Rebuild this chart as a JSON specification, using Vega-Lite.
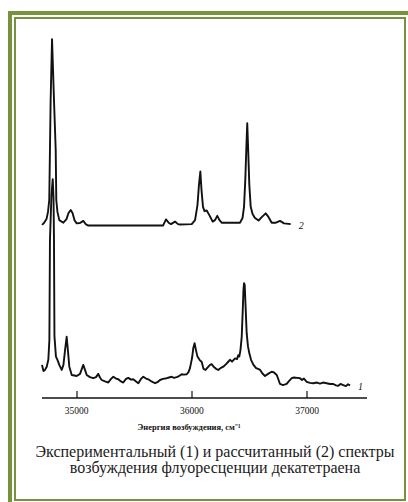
{
  "$schema": "https://vega.github.io/schema/vega-lite/v6.json",
  "width": 400,
  "height": 491,
  "autosize": {"type": "none"},
  "padding": {"left": 10, "top": 13, "right": -2, "bottom": -2},
  "background": "white",
  "view": {"stroke": "#76923C", "strokeWidth": 4, "fill": "white"},
  "title": {
    "text": ["Экспериментальный (1) и рассчитанный (2) спектры", "возбуждения флуоресценции декатетраена"],
    "orient": "bottom",
    "anchor": "middle",
    "frame": "group",
    "offset": -60,
    "dx": 5,
    "baseline": "top",
    "font": "Liberation Serif",
    "fontSize": 16,
    "fontWeight": "normal",
    "color": "#1a1a1a",
    "lineHeight": 15.5
  },
  "data": {
    "values": [
      {"s": "2", "nu": 34700, "I": 48.1}, {"s": "2", "nu": 34717, "I": 48.6}, {"s": "2", "nu": 34739, "I": 49.7},
      {"s": "2", "nu": 34752, "I": 51.7}, {"s": "2", "nu": 34763, "I": 55.0}, {"s": "2", "nu": 34769, "I": 68.9},
      {"s": "2", "nu": 34775, "I": 82.8}, {"s": "2", "nu": 34787, "I": 99.7}, {"s": "2", "nu": 34804, "I": 82.8},
      {"s": "2", "nu": 34819, "I": 68.9}, {"s": "2", "nu": 34824, "I": 55.0}, {"s": "2", "nu": 34834, "I": 51.7},
      {"s": "2", "nu": 34850, "I": 49.4}, {"s": "2", "nu": 34885, "I": 48.7}, {"s": "2", "nu": 34913, "I": 49.7},
      {"s": "2", "nu": 34930, "I": 51.4}, {"s": "2", "nu": 34949, "I": 52.2}, {"s": "2", "nu": 34965, "I": 51.4},
      {"s": "2", "nu": 34982, "I": 49.4}, {"s": "2", "nu": 35001, "I": 48.5}, {"s": "2", "nu": 35030, "I": 48.6},
      {"s": "2", "nu": 35058, "I": 49.2}, {"s": "2", "nu": 35082, "I": 48.2}, {"s": "2", "nu": 35102, "I": 47.9},
      {"s": "2", "nu": 35377, "I": 47.9}, {"s": "2", "nu": 35750, "I": 47.9}, {"s": "2", "nu": 35776, "I": 49.6},
      {"s": "2", "nu": 35802, "I": 48.6}, {"s": "2", "nu": 35819, "I": 48.3}, {"s": "2", "nu": 35854, "I": 49.0},
      {"s": "2", "nu": 35880, "I": 48.3}, {"s": "2", "nu": 35897, "I": 48.2}, {"s": "2", "nu": 35999, "I": 48.3},
      {"s": "2", "nu": 36028, "I": 49.4}, {"s": "2", "nu": 36049, "I": 53.6}, {"s": "2", "nu": 36062, "I": 59.2},
      {"s": "2", "nu": 36074, "I": 62.9}, {"s": "2", "nu": 36084, "I": 57.8}, {"s": "2", "nu": 36097, "I": 53.1},
      {"s": "2", "nu": 36110, "I": 51.9}, {"s": "2", "nu": 36129, "I": 52.1}, {"s": "2", "nu": 36152, "I": 50.8},
      {"s": "2", "nu": 36181, "I": 49.0}, {"s": "2", "nu": 36201, "I": 49.4}, {"s": "2", "nu": 36221, "I": 50.6},
      {"s": "2", "nu": 36240, "I": 49.4}, {"s": "2", "nu": 36259, "I": 48.7}, {"s": "2", "nu": 36418, "I": 48.7},
      {"s": "2", "nu": 36440, "I": 50.0}, {"s": "2", "nu": 36453, "I": 53.1}, {"s": "2", "nu": 36464, "I": 60.6},
      {"s": "2", "nu": 36474, "I": 70.3}, {"s": "2", "nu": 36481, "I": 76.3}, {"s": "2", "nu": 36489, "I": 68.9},
      {"s": "2", "nu": 36499, "I": 59.2}, {"s": "2", "nu": 36511, "I": 53.1}, {"s": "2", "nu": 36527, "I": 51.1},
      {"s": "2", "nu": 36548, "I": 50.0}, {"s": "2", "nu": 36579, "I": 49.3}, {"s": "2", "nu": 36609, "I": 50.3},
      {"s": "2", "nu": 36641, "I": 51.3}, {"s": "2", "nu": 36665, "I": 50.3}, {"s": "2", "nu": 36693, "I": 48.7},
      {"s": "2", "nu": 36730, "I": 48.7}, {"s": "2", "nu": 36765, "I": 49.2}, {"s": "2", "nu": 36800, "I": 48.5},
      {"s": "2", "nu": 36858, "I": 48.3},

      {"s": "1", "nu": 34700, "I": 9.2}, {"s": "1", "nu": 34713, "I": 7.5}, {"s": "1", "nu": 34726, "I": 7.8},
      {"s": "1", "nu": 34741, "I": 8.7}, {"s": "1", "nu": 34755, "I": 10.6}, {"s": "1", "nu": 34764, "I": 16.1},
      {"s": "1", "nu": 34769, "I": 43.9}, {"s": "1", "nu": 34782, "I": 56.4}, {"s": "1", "nu": 34793, "I": 60.8},
      {"s": "1", "nu": 34800, "I": 55.6}, {"s": "1", "nu": 34804, "I": 43.9}, {"s": "1", "nu": 34808, "I": 17.2},
      {"s": "1", "nu": 34821, "I": 11.5}, {"s": "1", "nu": 34834, "I": 10.6}, {"s": "1", "nu": 34850, "I": 9.2},
      {"s": "1", "nu": 34871, "I": 7.8}, {"s": "1", "nu": 34886, "I": 9.2}, {"s": "1", "nu": 34900, "I": 13.3},
      {"s": "1", "nu": 34914, "I": 17.0}, {"s": "1", "nu": 34926, "I": 12.8}, {"s": "1", "nu": 34937, "I": 8.7},
      {"s": "1", "nu": 34958, "I": 6.4}, {"s": "1", "nu": 35001, "I": 6.1}, {"s": "1", "nu": 35030, "I": 6.7},
      {"s": "1", "nu": 35058, "I": 9.2}, {"s": "1", "nu": 35073, "I": 7.8}, {"s": "1", "nu": 35088, "I": 6.4},
      {"s": "1", "nu": 35116, "I": 5.8}, {"s": "1", "nu": 35145, "I": 5.5}, {"s": "1", "nu": 35169, "I": 5.8},
      {"s": "1", "nu": 35188, "I": 6.7}, {"s": "1", "nu": 35203, "I": 5.7}, {"s": "1", "nu": 35218, "I": 5.0},
      {"s": "1", "nu": 35247, "I": 4.6}, {"s": "1", "nu": 35275, "I": 4.3}, {"s": "1", "nu": 35299, "I": 5.3},
      {"s": "1", "nu": 35319, "I": 5.9}, {"s": "1", "nu": 35342, "I": 5.4}, {"s": "1", "nu": 35362, "I": 5.2},
      {"s": "1", "nu": 35385, "I": 4.6}, {"s": "1", "nu": 35405, "I": 4.3}, {"s": "1", "nu": 35429, "I": 5.3},
      {"s": "1", "nu": 35449, "I": 5.6}, {"s": "1", "nu": 35472, "I": 5.1}, {"s": "1", "nu": 35492, "I": 5.2},
      {"s": "1", "nu": 35516, "I": 4.6}, {"s": "1", "nu": 35536, "I": 4.1}, {"s": "1", "nu": 35559, "I": 5.3},
      {"s": "1", "nu": 35579, "I": 5.9}, {"s": "1", "nu": 35603, "I": 5.4}, {"s": "1", "nu": 35622, "I": 5.2},
      {"s": "1", "nu": 35650, "I": 4.6}, {"s": "1", "nu": 35681, "I": 4.1}, {"s": "1", "nu": 35702, "I": 4.4},
      {"s": "1", "nu": 35724, "I": 5.0}, {"s": "1", "nu": 35750, "I": 5.3}, {"s": "1", "nu": 35782, "I": 5.5},
      {"s": "1", "nu": 35802, "I": 5.7}, {"s": "1", "nu": 35825, "I": 5.9}, {"s": "1", "nu": 35845, "I": 5.6},
      {"s": "1", "nu": 35869, "I": 5.8}, {"s": "1", "nu": 35889, "I": 6.1}, {"s": "1", "nu": 35912, "I": 6.6},
      {"s": "1", "nu": 35932, "I": 6.5}, {"s": "1", "nu": 35956, "I": 6.6}, {"s": "1", "nu": 35971, "I": 7.2},
      {"s": "1", "nu": 35984, "I": 8.3}, {"s": "1", "nu": 36002, "I": 11.1}, {"s": "1", "nu": 36013, "I": 13.9},
      {"s": "1", "nu": 36024, "I": 15.2}, {"s": "1", "nu": 36036, "I": 13.3}, {"s": "1", "nu": 36049, "I": 11.5},
      {"s": "1", "nu": 36067, "I": 10.6}, {"s": "1", "nu": 36086, "I": 10.0}, {"s": "1", "nu": 36101, "I": 8.1},
      {"s": "1", "nu": 36119, "I": 7.8}, {"s": "1", "nu": 36140, "I": 8.6}, {"s": "1", "nu": 36158, "I": 9.2},
      {"s": "1", "nu": 36172, "I": 9.4}, {"s": "1", "nu": 36192, "I": 8.6}, {"s": "1", "nu": 36210, "I": 8.1},
      {"s": "1", "nu": 36230, "I": 7.8}, {"s": "1", "nu": 36249, "I": 8.3}, {"s": "1", "nu": 36273, "I": 8.7},
      {"s": "1", "nu": 36297, "I": 9.4}, {"s": "1", "nu": 36314, "I": 10.0}, {"s": "1", "nu": 36331, "I": 10.6},
      {"s": "1", "nu": 36349, "I": 10.1}, {"s": "1", "nu": 36375, "I": 11.0}, {"s": "1", "nu": 36392, "I": 10.8},
      {"s": "1", "nu": 36403, "I": 11.9}, {"s": "1", "nu": 36412, "I": 11.5}, {"s": "1", "nu": 36422, "I": 13.3},
      {"s": "1", "nu": 36433, "I": 17.0}, {"s": "1", "nu": 36442, "I": 24.4}, {"s": "1", "nu": 36448, "I": 30.0},
      {"s": "1", "nu": 36453, "I": 31.9}, {"s": "1", "nu": 36459, "I": 31.4}, {"s": "1", "nu": 36466, "I": 25.8},
      {"s": "1", "nu": 36476, "I": 18.0}, {"s": "1", "nu": 36487, "I": 14.4}, {"s": "1", "nu": 36499, "I": 12.4},
      {"s": "1", "nu": 36514, "I": 10.6}, {"s": "1", "nu": 36535, "I": 9.2}, {"s": "1", "nu": 36558, "I": 8.3},
      {"s": "1", "nu": 36575, "I": 8.1}, {"s": "1", "nu": 36593, "I": 7.8}, {"s": "1", "nu": 36613, "I": 6.8},
      {"s": "1", "nu": 36635, "I": 6.1}, {"s": "1", "nu": 36661, "I": 6.7}, {"s": "1", "nu": 36693, "I": 7.3},
      {"s": "1", "nu": 36713, "I": 7.1}, {"s": "1", "nu": 36737, "I": 6.4}, {"s": "1", "nu": 36753, "I": 5.0},
      {"s": "1", "nu": 36765, "I": 3.9}, {"s": "1", "nu": 36791, "I": 3.6}, {"s": "1", "nu": 36823, "I": 3.9},
      {"s": "1", "nu": 36843, "I": 4.7}, {"s": "1", "nu": 36867, "I": 5.5}, {"s": "1", "nu": 36887, "I": 5.7},
      {"s": "1", "nu": 36913, "I": 5.6}, {"s": "1", "nu": 36939, "I": 5.5}, {"s": "1", "nu": 36956, "I": 5.0},
      {"s": "1", "nu": 36973, "I": 5.4}, {"s": "1", "nu": 36997, "I": 4.5}, {"s": "1", "nu": 37025, "I": 4.2},
      {"s": "1", "nu": 37054, "I": 4.1}, {"s": "1", "nu": 37086, "I": 4.3}, {"s": "1", "nu": 37112, "I": 4.0},
      {"s": "1", "nu": 37138, "I": 4.3}, {"s": "1", "nu": 37170, "I": 4.1}, {"s": "1", "nu": 37199, "I": 3.9},
      {"s": "1", "nu": 37228, "I": 3.9}, {"s": "1", "nu": 37251, "I": 3.5}, {"s": "1", "nu": 37271, "I": 3.4},
      {"s": "1", "nu": 37290, "I": 3.9}, {"s": "1", "nu": 37314, "I": 3.6}, {"s": "1", "nu": 37337, "I": 3.3},
      {"s": "1", "nu": 37355, "I": 3.8}, {"s": "1", "nu": 37373, "I": 3.5}
    ]
  },
  "resolve": {"axis": {"x": "independent", "y": "independent"}},
  "layer": [
    {
      "mark": {"type": "line", "color": "#111111", "strokeWidth": 1.9, "strokeJoin": "round"},
      "encoding": {
        "x": {
          "field": "nu", "type": "quantitative",
          "scale": {"domain": [34465.7, 37849.8], "range": [5, 395], "nice": false, "zero": false},
          "axis": {"orient": "top", "offset": -5, "translate": 0, "domainColor": "#76923C", "domainWidth": 2, "domainCap": "square", "ticks": false, "labels": false, "grid": false, "title": null}
        },
        "y": {
          "field": "I", "type": "quantitative",
          "scale": {"domain": [-28.333, 105.556], "range": [487, 5], "nice": false, "zero": false},
          "axis": {"orient": "left", "offset": -5, "translate": 0, "domainColor": "#76923C", "domainWidth": 2, "domainCap": "square", "ticks": false, "labels": false, "grid": false, "title": null}
        },
        "detail": {"field": "s", "type": "nominal"}
      }
    },
    {
      "mark": {"type": "text", "align": "left", "baseline": "middle", "dx": 8, "dy": 2, "font": "Liberation Serif", "fontStyle": "italic", "fontSize": 10, "color": "#111111"},
      "encoding": {
        "x": {
          "aggregate": {"argmax": "nu"}, "field": "nu", "type": "quantitative",
          "axis": {"orient": "bottom", "offset": -4, "translate": 0, "domainColor": "#76923C", "domainWidth": 2, "domainCap": "square", "ticks": false, "labels": false, "grid": false, "title": null}
        },
        "y": {
          "aggregate": {"argmax": "nu"}, "field": "I", "type": "quantitative",
          "axis": {"orient": "right", "offset": -5, "translate": 0, "domainColor": "#76923C", "domainWidth": 2, "domainCap": "square", "ticks": false, "labels": false, "grid": false, "title": null}
        },
        "text": {"field": "s", "type": "nominal"}
      }
    },
    {
      "data": {"values": [{}]},
      "mark": {"type": "rule", "color": "#111111", "strokeWidth": 1.3},
      "encoding": {
        "x": {
          "datum": 34700, "type": "quantitative",
          "axis": {
            "orient": "bottom", "offset": -106, "translate": 0, "domain": false, "grid": false,
            "values": [35000, 36000, 37000], "format": "d",
            "ticks": true, "tickSize": -7, "tickWidth": 1.2, "tickColor": "#111111",
            "labelFont": "Liberation Serif", "labelFontSize": 9.5, "labelColor": "#111111", "labelPadding": 15,
            "labelFlush": false, "labelOverlap": false,
            "title": "Энергия возбуждения, см⁻¹", "titleFont": "Liberation Serif", "titleFontSize": 8.5,
            "titleFontWeight": "bold", "titleColor": "#111111", "titlePadding": 7, "titleX": 179
          }
        },
        "x2": {"datum": 37520},
        "y": {"datum": 0, "type": "quantitative", "axis": null}
      }
    }
  ]
}
